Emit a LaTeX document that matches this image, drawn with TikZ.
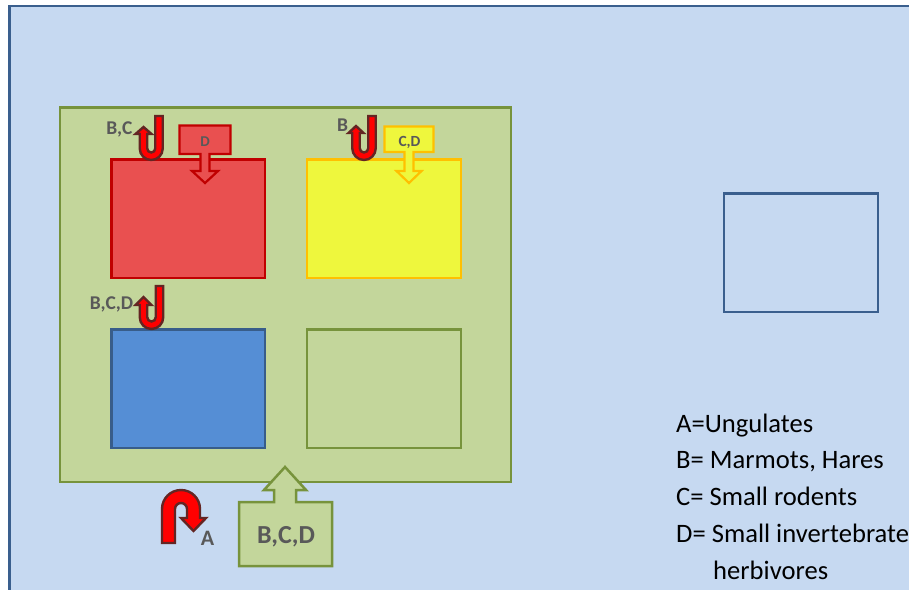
\documentclass[tikz,border=0pt]{standalone}
\usepackage{fontspec}
\setmainfont{Carlito}
\definecolor{bgblue}{HTML}{C6D9F1}
\definecolor{frameblue}{HTML}{3A5F8E}
\definecolor{habfill}{HTML}{C3D69B}
\definecolor{habline}{HTML}{77933C}
\definecolor{redfill}{HTML}{E95050}
\definecolor{redline}{HTML}{C00000}
\definecolor{yelfill}{HTML}{EEF73D}
\definecolor{yelline}{HTML}{FFC000}
\definecolor{bluefill}{HTML}{558ED5}
\definecolor{blueline}{HTML}{385D8A}
\definecolor{ured}{HTML}{FF0000}
\definecolor{ubrown}{HTML}{632523}
\definecolor{labgray}{HTML}{595959}
\tikzset{
  frame/.style={draw=frameblue, fill=bgblue, line width=2.5pt},
  plotbox/.style={rectangle, inner sep=0pt, line width=2.5pt},
  redcall/.style={draw=redline, fill=redfill, line width=2.2pt, line join=miter},
  yelcall/.style={draw=yelline, fill=yelfill, line width=2.2pt, line join=miter},
  grncall/.style={draw=habline, fill=habfill, line width=2.5pt, line join=miter},
  uarrow/.style={draw=ubrown, fill=ured, line width=2.4pt, line join=miter},
  lab/.style={anchor=base, inner sep=0pt, text=labgray, font=\bfseries},
  legend/.style={anchor=base west, inner sep=0pt, text=black, font=\fontsize{26.6}{30}\selectfont},
}
% U-turn opening upward: #1 left arm x (head), #2 right arm x (tail), #3 tail top y,
% #4 arc centre y, #5 tip y, #6 head base y, #7 head half width, #8 band half width
\newcommand{\uturnup}[8]{%
  \draw[uarrow] ({#2+#8},#3) -- ({#2+#8},#4)
    arc[start angle=0,end angle=180,radius={(#2-#1)/2+#8}]
    -- ({#1-#8},#6) -- ({#1-#7},#6) -- (#1,#5) -- ({#1+#7},#6) -- ({#1+#8},#6)
    -- ({#1+#8},#4)
    arc[start angle=180,end angle=0,radius={(#2-#1)/2-#8}]
    -- ({#2-#8},#3) -- cycle;}
% U-turn opening downward: #1 left arm x (tail), #2 right arm x (head), #3 tail bottom y,
% #4 arc centre y, #5 tip y, #6 head base y, #7 head half width, #8 band half width
\newcommand{\uturnover}[8]{%
  \draw[uarrow] ({#1-#8},#3) -- ({#1-#8},#4)
    arc[start angle=180,end angle=360,radius={(#2-#1)/2+#8}]
    -- ({#2+#8},#6) -- ({#2+#7},#6) -- (#2,#5) -- ({#2-#7},#6) -- ({#2-#8},#6)
    -- ({#2-#8},#4)
    arc[start angle=360,end angle=180,radius={(#2-#1)/2-#8}]
    -- ({#1+#8},#3) -- cycle;}
\begin{document}
\begin{tikzpicture}[x=1pt,y=-1pt]
\useasboundingbox (0,0) rectangle (909,589);
\clip (0,0) rectangle (909,589);
\fill[white] (0,0) rectangle (909,589);
\draw[frame] (9.5,6) rectangle (940,620);

% habitat box and patches
\node[plotbox, draw=habline, fill=habfill, minimum width=451pt, minimum height=374.5pt] (hab) at (285.5,294.75) {};
\node[plotbox, draw=redline, fill=redfill, minimum width=153.5pt, minimum height=118.5pt] (redp) at (188.25,218.75) {};
\node[plotbox, draw=yelline, fill=yelfill, minimum width=154pt, minimum height=118.5pt] (yelp) at (384,218.75) {};
\node[plotbox, draw=blueline, fill=bluefill, minimum width=153.5pt, minimum height=118.5pt] (bluep) at (188.25,388.75) {};
\node[plotbox, draw=habline, fill=habfill, minimum width=154pt, minimum height=118.5pt] (grnp) at (384,388.75) {};
\node[plotbox, draw=frameblue, line width=2.5pt, minimum width=154pt, minimum height=118.5pt] (side) at (801,252.75) {};

% callouts
\draw[redcall] (179.5,125.5) -- (230.5,125.5) -- (230.5,154) -- (209.5,154) -- (209.5,171)
  -- (218,171) -- (205,183) -- (192,171) -- (200.5,171) -- (200.5,154) -- (179.5,154) -- cycle;
\draw[yelcall] (384.5,126.5) -- (433.5,126.5) -- (433.5,152) -- (413.5,152) -- (413.5,171)
  -- (421.5,171) -- (409,183) -- (396.5,171) -- (404.5,171) -- (404.5,152) -- (384.5,152) -- cycle;
\draw[grncall] (239,502) -- (274,502) -- (274,490) -- (264,490) -- (285,467) -- (306,490)
  -- (296,490) -- (296,502) -- (332,502) -- (332,566) -- (239,566) -- cycle;

% U-turn arrows
\uturnup{143.5}{159}{116}{148.5}{127}{134}{8}{3.75}
\uturnup{356}{372}{116}{148.25}{126}{133}{7.5}{3.75}
\uturnup{143.5}{159.5}{286}{317.25}{297}{305}{8}{3.75}
\uturnover{168.5}{193.5}{543}{509}{531}{518}{12.5}{6.5}

% labels
\node[lab, font=\bfseries\fontsize{19.5}{19.5}\selectfont] (lbc) at (119.5,134) {B,C};
\node[lab, font=\bfseries\fontsize{19.5}{19.5}\selectfont] (lb) at (342.5,131) {B};
\node[lab, font=\bfseries\fontsize{19.5}{19.5}\selectfont] (lbcd) at (111.5,309) {B,C,D};
\node[lab, font=\bfseries\fontsize{15}{15}\selectfont] (ld) at (205,146) {D};
\node[lab, font=\bfseries\fontsize{15.5}{15.5}\selectfont] (lcd) at (409.5,146) {C,D};
\node[lab, font=\bfseries\fontsize{22}{22}\selectfont] (la) at (207.5,545) {A};
\node[lab, font=\bfseries\fontsize{26}{26}\selectfont] (lbcd2) at (286,543) {B,C,D};

% legend
\node[legend] (ka) at (676,432) {A=Ungulates};
\node[legend] (kb) at (676,468.5) {B= Marmots, Hares};
\node[legend] (kc) at (676,505.5) {C= Small rodents};
\node[legend] (kd) at (676,542.5) {D= Small invertebrate};
\node[legend] (kd2) at (713,579.5) {herbivores};
\end{tikzpicture}
\end{document}
